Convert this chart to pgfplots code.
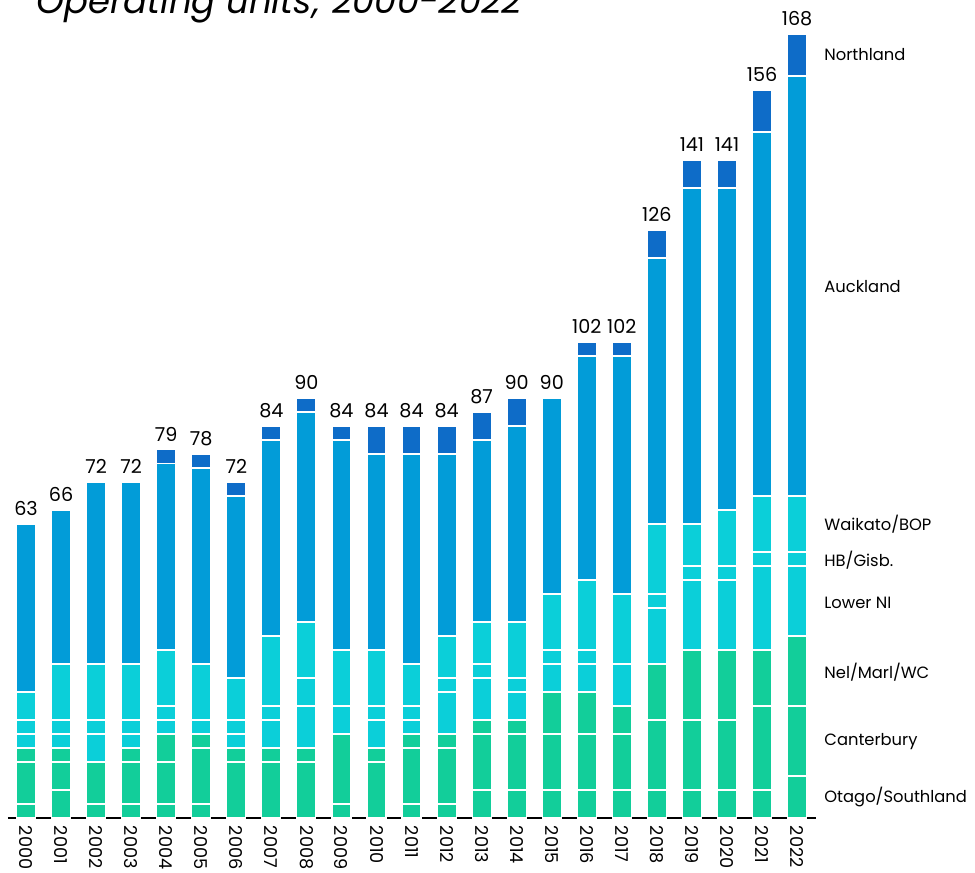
\documentclass[border=0pt]{standalone}
\usepackage{pgfplots}
\pgfplotsset{compat=1.18}
\usepackage{pgfplotstable}
\usepackage{fontspec}
\setmainfont{Poppins}

\definecolor{cGreen}{HTML}{12CE9A}
\definecolor{cCyan}{HTML}{0BCFD9}
\definecolor{cBlue}{HTML}{029CD8}
\definecolor{cNavy}{HTML}{0E6CC8}

% operating units by region; ot=Otago/Southland ca=Canterbury ne=Nel/Marl/WC
% ln=Lower NI hb=HB/Gisb. wa=Waikato/BOP au=Auckland no=Northland
\pgfplotstableread{
x  ot ca ne ln hb wa au no tot
0  3  9  3  3  3  6  36 0  63
1  6  6  3  3  3  12 33 0  66
2  3  9  0  6  3  12 39 0  72
3  3  9  3  3  3  12 39 0  72
4  3  9  6  3  3  12 40 3  79
5  3  12 3  3  0  12 42 3  78
6  0  12 3  3  3  9  39 3  72
7  0  12 3  6  3  15 42 3  84
8  0  12 3  9  6  12 45 3  90
9  3  15 0  6  0  12 45 3  84
10 0  12 3  6  3  12 42 6  84
11 3  12 3  3  3  9  45 6  84
12 3  12 3  9  3  9  39 6  84
13 6  12 3  9  3  9  39 6  87
14 6  12 3  6  3  12 42 6  90
15 6  12 9  6  3  12 42 0  90
16 6  12 9  6  3  15 48 3  102
17 6  12 6  9  0  15 51 3  102
18 6  15 12 12 3  15 57 6  126
19 6  15 15 15 3  9  72 6  141
20 6  15 15 15 3  12 69 6  141
21 6  18 12 18 3  12 78 9  156
22 9  15 15 15 3  12 90 9  168
}\units

\newcommand{\lblfont}{\fontsize{9.8}{12}\selectfont}
\newcommand{\yearfont}{\fontsize{10.6}{12}\selectfont}
\newcommand{\numfont}{\fontsize{11.5}{13}\selectfont}

\pgfplotsset{
  common/.style={
    scale only axis,
    width=484.8pt, height=490pt,
    xmin=-0.514, xmax=22.54,
    ymin=0, ymax=175,
    clip=false,
  },
}

\begin{document}
\begin{tikzpicture}
\begin{axis}[
  common,
  ybar stacked,
  bar width=11.4pt,
  axis x line=bottom,
  axis y line=none,
  axis line style={-, line width=1.3pt},
  xtick={0,...,22},
  xticklabels={2000,2001,2002,2003,2004,2005,2006,2007,2008,2009,2010,2011,2012,2013,2014,2015,2016,2017,2018,2019,2020,2021,2022},
  major tick length=0pt,
  xtick style={draw=none},
  xticklabel style={rotate=-90, anchor=west, font=\yearfont, inner sep=0pt, xshift=4.5pt},
  /pgf/number format/assume math mode=true,
  every axis plot/.append style={draw=white, line width=0.7pt},
]
\addplot[fill=cGreen] table[x=x, y=ot] {\units};
\addplot[fill=cGreen] table[x=x, y=ca] {\units};
\addplot[fill=cGreen] table[x=x, y=ne] {\units};
\addplot[fill=cCyan] table[x=x, y=ln] {\units};
\addplot[fill=cCyan] table[x=x, y=hb] {\units};
\addplot[fill=cCyan] table[x=x, y=wa] {\units};
\addplot[fill=cBlue] table[x=x, y=au] {\units};
\addplot[fill=cNavy] table[x=x, y=no] {\units};

\coordinate (o) at (rel axis cs:0,0);
\node[anchor=west, font=\lblfont, inner sep=0pt] at (axis cs:22.77,4.5) {Otago/Southland};
\node[anchor=west, font=\lblfont, inner sep=0pt] at (axis cs:22.77,16.3) {Canterbury};
\node[anchor=west, font=\lblfont, inner sep=0pt] at (axis cs:22.77,31.3) {Nel/Marl/WC};
\node[anchor=west, font=\lblfont, inner sep=0pt] at (axis cs:22.77,46.1) {Lower NI};
\node[anchor=west, font=\lblfont, inner sep=0pt] at (axis cs:22.77,55.3) {HB/Gisb.};
\node[anchor=west, font=\lblfont, inner sep=0pt] at (axis cs:22.77,63) {Waikato/BOP};
\node[anchor=west, font=\lblfont, inner sep=0pt] at (axis cs:22.77,113.8) {Auckland};
\node[anchor=west, font=\lblfont, inner sep=0pt] at (axis cs:22.77,163.5) {Northland};
\end{axis}
% totals above the bars
\begin{axis}[
  common,
  hide axis,
  /pgf/number format/assume math mode=true,
]
\addplot[draw=none, mark=none, point meta=explicit, nodes near coords,
  nodes near coords style={font=\numfont, text=black, anchor=base, inner sep=0pt, yshift=5pt}]
  table[x=x, y=tot, meta=tot] {\units};
\end{axis}
\node[anchor=base west, font=\fontsize{21.3}{24}\selectfont\itshape, inner sep=0pt]
  at ([xshift=16.8pt, yshift=482.4pt]o) {Operating units; 2000-2022};
\pgfresetboundingbox
\path[use as bounding box] ([xshift=-4.8pt, yshift=-32.4pt]o) rectangle ([xshift=580.2pt, yshift=490.8pt]o);
\end{tikzpicture}
\end{document}
